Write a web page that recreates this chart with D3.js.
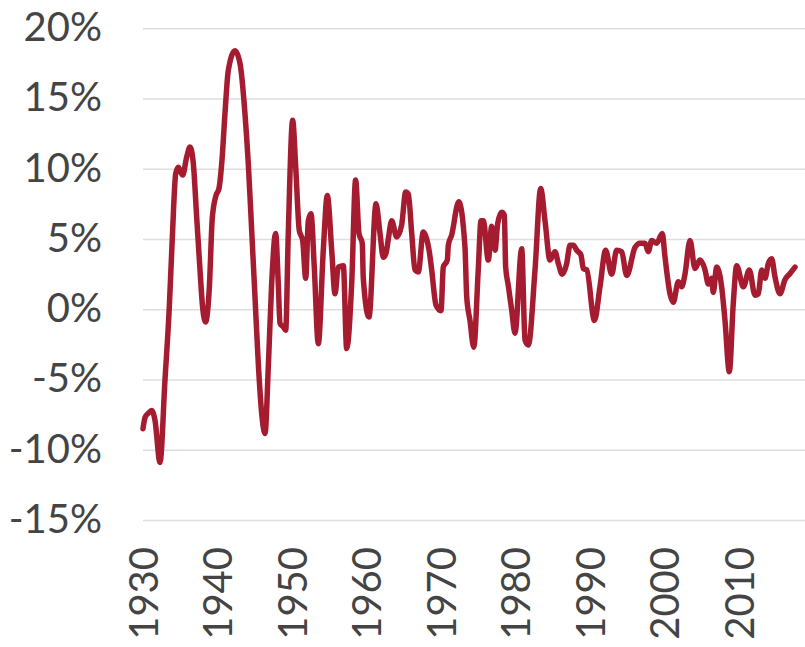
<!DOCTYPE html>
<html>
<head>
<meta charset="utf-8">
<script src="https://cdn.jsdelivr.net/npm/d3@7"></script>
<style>
  html, body { margin: 0; padding: 0; background: #fff; }
  svg { display: block; }
  text { font-family: Lato, "Open Sans", sans-serif; fill: #444; }
</style>
</head>
<body>
<svg id="chart" width="805" height="647"></svg>
<script>
// ---- data ----
const prewarYears  = [1930.00,1930.27,1930.71,1931.17,1931.61,1932.28,1932.95,1933.53,1933.94,1934.39,1934.74,1935.33,1935.87,1936.31,1936.75,1937.20,1937.65,1938.00,1938.40,1938.90,1939.30,1939.80,1940.20,1940.60,1941.00,1941.45,1942.35,1943.02,1943.69,1944.13,1944.59,1945.03,1945.48,1945.93];
const prewarGrowth = [-8.5,-7.7,-7.4,-7.2,-7.9,-10.9,-5.05,0.15,5.15,9.65,10.1,9.55,10.85,11.55,10.4,6.6,2.8,0.15,-0.9,1.5,6.5,8.1,8.6,10.6,13.9,17.0,18.4,17.5,13.9,10.4,5.6,0.9,-3.9,-7.4];

const postwarYears  = [1946.38,1946.82,1947.27,1947.80,1948.16,1948.39,1948.83,1949.15,1949.50,1950.09,1950.50,1950.98,1951.43,1951.84,1952.19,1952.55,1952.99,1953.53,1954.20,1954.74,1955.33,1955.77,1956.21,1956.89,1957.34,1958.01,1958.54,1958.99,1959.43,1959.57,1960.33,1961.28,1961.81,1962.26,1962.62,1962.93,1963.38,1964.05,1964.72,1965.26,1965.61,1966.07,1966.51,1966.95,1967.62,1968.08,1968.43,1968.75,1969.33,1970.00,1970.31,1970.85,1970.98,1971.44,1972.38,1973.22,1973.45,1973.89,1974.40,1975.00,1975.37,1975.68,1976.35,1976.80,1977.25,1977.61,1978.15,1978.50,1978.68,1979.03,1979.49,1979.93,1980.83,1981.28,1981.72,1982.62,1983.38,1983.96,1984.63,1985.30,1985.75,1986.28,1986.87,1987.32,1987.76,1988.21,1988.79,1989.10,1989.56,1990.60,1991.34,1992.10,1992.91,1993.58,1994.25,1994.93,1996.04,1996.71,1997.38,1997.83,1998.28,1998.95,1999.70,2000.07,2000.74,2001.18,2001.85,2002.30,2002.75,2003.42,2004.09,2004.77,2005.44,2005.88,2006.33,2006.55,2007.00,2007.67,2008.12,2008.70,2009.23,2009.69,2010.58,2011.38,2012.15,2012.59,2013.05,2013.49,2013.93,2014.38,2014.83,2015.50,2016.17,2016.85,2017.52];
const postwarGrowth = [-8.85,-4.1,1.8,5.4,1.8,-1.0,-1.25,-1.5,5.4,13.45,10.1,5.6,4.9,2.2,6.3,6.8,3.0,-2.45,4.2,8.1,4.2,1.1,3.0,3.1,-2.8,1.8,9.2,5.4,4.7,2.2,-0.55,7.5,5.4,3.7,4.0,5.0,6.3,5.15,6.0,8.35,8.2,5.4,2.8,2.65,5.5,5.0,4.1,2.8,0.3,-0.1,3.0,3.5,4.55,5.3,7.65,4.4,0.9,-0.8,-2.7,2.8,6.3,6.3,3.5,5.9,4.2,6.1,6.9,6.7,3.0,1.7,-0.07,-1.7,4.3,-2.2,-2.55,2.8,8.6,6.3,3.5,4.1,3.25,2.5,3.25,4.55,4.55,4.2,3.85,2.9,2.8,-0.8,1.6,4.2,2.5,4.2,4.1,2.4,4.4,4.7,4.7,4.1,4.9,4.7,5.4,3.7,1.1,0.5,1.95,1.6,2.5,4.9,2.9,3.5,2.8,1.8,2.2,1.2,3.0,1.6,-0.8,-4.45,0.4,3.1,1.6,2.8,1.0,1.1,2.8,2.2,3.25,3.6,2.3,1.1,2.1,2.55,3.0];

const xTicks = [1930,1940,1950,1960,1970,1980,1990,2000,2010];
const yTicks = [-15,-10,-5,0,5,10,15,20];

// ---- build ----
const years = prewarYears.concat(postwarYears);
const growth = prewarGrowth.concat(postwarGrowth);
const data = years.map((yr, i) => ({ year: yr, value: growth[i] }));

const svg = d3.select("#chart");
const x = d3.scaleLinear().domain([1930, 2010]).range([143, 739]);
const y = d3.scaleLinear().domain([-15, 20]).range([520, 28.25]);

// gridlines + y labels
const yAxis = d3.axisLeft(y)
  .tickValues(yTicks)
  .tickSize(-(805 - 143))
  .tickPadding(41)
  .tickFormat(d => d + "%");
const gy = svg.append("g").attr("transform", "translate(143,0)").call(yAxis);
gy.select(".domain").remove();
gy.selectAll(".tick line").attr("stroke", "#dedede").attr("stroke-width", 1.3);
gy.selectAll(".tick text")
  .attr("font-family", "Lato, sans-serif")
  .attr("font-size", 40)
  .attr("fill", "#444")
  .attr("dy", "0.31em");

// x labels (rotated)
const xAxis = d3.axisBottom(x).tickValues(xTicks).tickSize(0).tickFormat(d3.format("d"));
const gx = svg.append("g").attr("transform", "translate(0,547)").call(xAxis);
gx.select(".domain").remove();
gx.selectAll(".tick text")
  .attr("font-family", "Lato, sans-serif")
  .attr("font-size", 40)
  .attr("fill", "#444")
  .attr("text-anchor", "end")
  .attr("transform", "rotate(-90)")
  .attr("x", 0)
  .attr("y", 0)
  .attr("dy", "0.36em");

// line
const line = d3.line()
  .x(d => x(d.year))
  .y(d => y(d.value))
  .curve(d3.curveMonotoneX);

svg.append("path")
  .datum(data)
  .attr("fill", "none")
  .attr("stroke", "#a51c30")
  .attr("stroke-width", 5.5)
  .attr("stroke-linejoin", "round")
  .attr("stroke-linecap", "round")
  .attr("d", line);
</script>
</body>
</html>
